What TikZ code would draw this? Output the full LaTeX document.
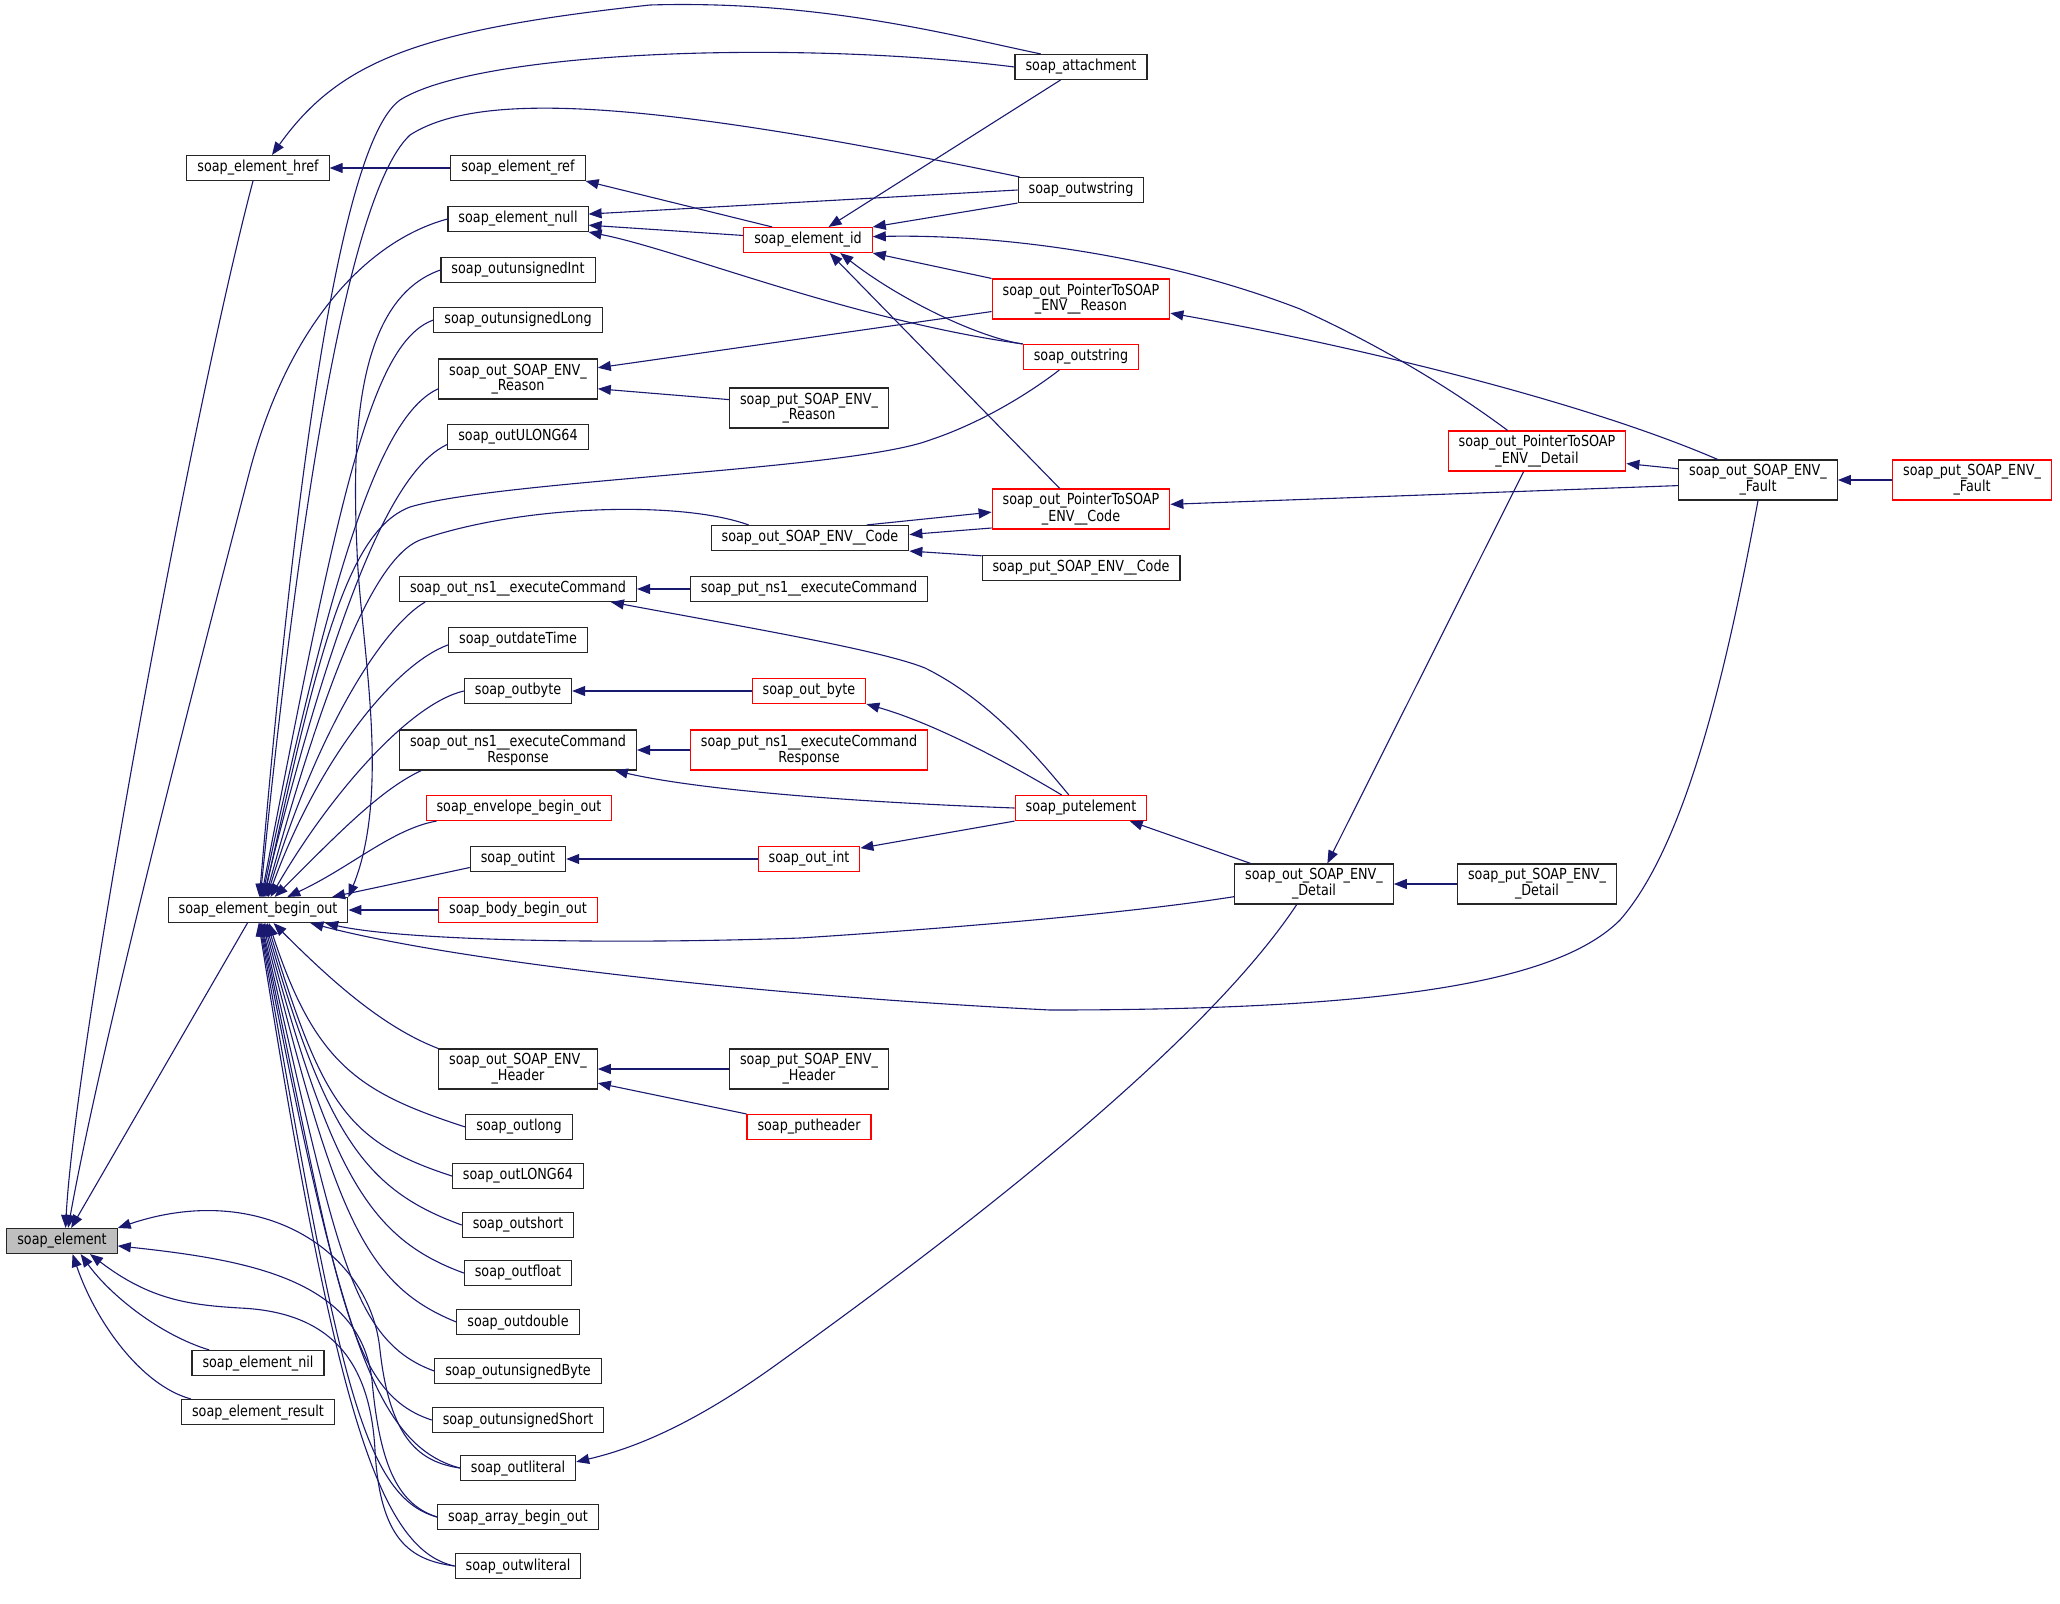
\documentclass[tikz,border=0pt]{standalone}
\usepackage{fontspec}
\setmainfont{DejaVu Sans}[FakeStretch=0.84]
\usetikzlibrary{arrows.meta}
\definecolor{edgeblue}{HTML}{191970}
\definecolor{nodegrey}{HTML}{BFBFBF}

\begin{document}
\begin{tikzpicture}[
x=1pt, y=1pt,
    fn/.style = {draw=black!85, fill=white, line width=1.1pt,
                 font=\fontsize{15.2}{13.6}\selectfont,
                 inner xsep=10.5pt, inner ysep=2pt,
                 minimum height=25pt, align=center},
   fnr/.style = {fn, draw=red},      % red frame
   fng/.style = {fn, fill=nodegrey}, % grey fill
   two/.style = {minimum height=40pt},
  call/.style = {draw=edgeblue, line width=1.1pt,
                 arrows={Triangle[length=13pt,width=10pt]-}}
                    ]
\useasboundingbox (0,0) rectangle (2060,-1603);
% soap_element and its direct callers
\node (el)       [fng] at (62,-1241)  {soap\_element};
\node (href)     [fn]  at (258,-168)  {soap\_element\_href};
\node (beginout) [fn]  at (258,-910)  {soap\_element\_begin\_out};
\node (nil)      [fn]  at (258,-1363) {soap\_element\_nil};
\node (result)   [fn]  at (258,-1412) {soap\_element\_result};
% third column
\node (ref)        [fn]     at (518,-168)  {soap\_element\_ref};
\node (null)       [fn]     at (518,-219)  {soap\_element\_null};
\node (uint)       [fn]     at (518,-270)  {soap\_outunsignedInt};
\node (ulong)      [fn]     at (518,-320)  {soap\_outunsignedLong};
\node (envreason)  [fn,two] at (518,-379)  {soap\_out\_SOAP\_ENV\_\\\_Reason};
\node (ulong64)    [fn]     at (518,-437)  {soap\_outULONG64};
\node (execcmd)    [fn]     at (518,-589)  {soap\_out\_ns1\_\_executeCommand};
\node (datetime)   [fn]     at (518,-640)  {soap\_outdateTime};
\node (outbyte)    [fn]     at (518,-691)  {soap\_outbyte};
\node (execresp)   [fn,two] at (518,-750)  {soap\_out\_ns1\_\_executeCommand\\Response};
\node (envbegin)   [fnr]    at (519,-808)  {soap\_envelope\_begin\_out};
\node (outint)     [fn]     at (518,-859)  {soap\_outint};
\node (bodybegin)  [fnr]    at (518,-910)  {soap\_body\_begin\_out};
\node (envheader)  [fn,two] at (518,-1069) {soap\_out\_SOAP\_ENV\_\\\_Header};
\node (outlong)    [fn]     at (519,-1127) {soap\_outlong};
\node (outLONG64)  [fn]     at (518,-1176) {soap\_outLONG64};
\node (outshort)   [fn]     at (518,-1225) {soap\_outshort};
\node (outfloat)   [fn]     at (518,-1273) {soap\_outfloat};
\node (outdouble)  [fn]     at (518,-1322) {soap\_outdouble};
\node (ubyte)      [fn]     at (518,-1371) {soap\_outunsignedByte};
\node (ushort)     [fn]     at (518,-1420) {soap\_outunsignedShort};
\node (literal)    [fn]     at (518,-1468) {soap\_outliteral};
\node (arraybegin) [fn]     at (518,-1517) {soap\_array\_begin\_out};
\node (wliteral)   [fn]     at (518,-1566) {soap\_outwliteral};
% fourth column
\node (elid)         [fnr]     at (808,-240)  {soap\_element\_id};
\node (putreason)    [fn,two]  at (809,-408)  {soap\_put\_SOAP\_ENV\_\\\_Reason};
\node (envcode)      [fn]      at (810,-538)  {soap\_out\_SOAP\_ENV\_\_Code};
\node (putexec)      [fn]      at (809,-589)  {soap\_put\_ns1\_\_executeCommand};
\node (outbyte2)     [fnr]     at (809,-691)  {soap\_out\_byte};
\node (putexecresp)  [fnr,two] at (809,-750)  {soap\_put\_ns1\_\_executeCommand\\Response};
\node (outint2)      [fnr]     at (809,-859)  {soap\_out\_int};
\node (putheaderenv) [fn,two]  at (809,-1069) {soap\_put\_SOAP\_ENV\_\\\_Header};
\node (putheader)    [fnr]     at (809,-1127) {soap\_putheader};
% fifth column
\node (attach)    [fn]      at (1081,-67)  {soap\_attachment};
\node (wstring)   [fn]      at (1081,-190) {soap\_outwstring};
\node (ptrreason) [fnr,two] at (1081,-299) {soap\_out\_PointerToSOAP\\\_ENV\_\_Reason};
\node (outstring) [fnr]     at (1081,-357) {soap\_outstring};
\node (ptrcode)   [fnr,two] at (1081,-509) {soap\_out\_PointerToSOAP\\\_ENV\_\_Code};
\node (putcode)   [fn]      at (1081,-568) {soap\_put\_SOAP\_ENV\_\_Code};
\node (putelem)   [fnr]     at (1081,-808) {soap\_putelement};
% right part
\node (envdetail) [fn,two]  at (1314,-884) {soap\_out\_SOAP\_ENV\_\\\_Detail};
\node (ptrdetail) [fnr,two] at (1537,-451) {soap\_out\_PointerToSOAP\\\_ENV\_\_Detail};
\node (putdetail) [fn,two]  at (1537,-884) {soap\_put\_SOAP\_ENV\_\\\_Detail};
\node (envfault)  [fn,two]  at (1758,-480) {soap\_out\_SOAP\_ENV\_\\\_Fault};
\node (putfault)  [fnr,two] at (1972,-480) {soap\_put\_SOAP\_ENV\_\\\_Fault};

% calls into soap_element
\draw[call] (el.75) .. controls (75,-1050) and (190,-420) .. (href.-111);
\draw[call] (el.65) .. controls (100,-1050) and (190,-700) .. (250,-470)
                    .. controls (290,-320) and (370,-240) .. (null.west);
\draw[call] (el.55) -- (beginout.-129);
\draw[call] (el.-35) .. controls (110,-1295) and (160,-1335) .. (nil.165);
\draw[call] (el.-51) .. controls (95,-1320) and (140,-1385) .. (result.169);
\draw[call] (el.north east) .. controls (260,-1180) and (370,-1250) .. (380,-1350)
                            .. controls (390,-1440) and (420,-1462) .. (literal.west);
\draw[call] (el.-5) .. controls (250,-1260) and (360,-1280) .. (372,-1380)
                    .. controls (380,-1470) and (400,-1505) .. (arraybegin.west);
\draw[call] (el.-25) .. controls (150,-1300) and (190,-1305) .. (240,-1308)
                     .. controls (330,-1312) and (370,-1360) .. (375,-1450)
                     .. controls (380,-1540) and (410,-1560) .. (wliteral.west);
% soap_element_href
\draw[call] (href) -- (ref);
\draw[call] (href.43) .. controls (340,-60) and (420,-30) .. (650,-5)
                      .. controls (820,0) and (950,-35) .. (attach.162);
% soap_element_begin_out, callers above
\draw[call] (beginout.84) .. controls (285,-600) and (330,-150) .. (400,-100)
                          .. controls (480,-50) and (800,-40) .. (attach.west);
\draw[call] (beginout.80) .. controls (290,-600) and (340,-200) .. (410,-135)
                          .. controls (480,-90) and (650,-100) .. (wstring.168);
\draw[call] (beginout.8) .. controls (392,-790) and (360,-640) .. (357,-550)
                         .. controls (352,-440) and (355,-300) .. (uint.west);
\draw[call] (beginout.76) .. controls +(79:407) and +(200:67) .. (ulong.west);
\draw[call] (beginout.72) .. controls +(78:363) and +(205:60) .. (envreason.187);
\draw[call] (beginout.68) .. controls +(76:326) and +(205:55) .. (ulong64.186);
\draw[call] (beginout.64) .. controls (320,-640) and (350,-530) .. (410,-507)
                          .. controls (500,-480) and (850,-470) .. (930,-440)
                          .. controls (990,-420) and (1040,-385) .. (outstring.211);
\draw[call] (beginout.60) .. controls (320,-700) and (370,-560) .. (420,-540)
                          .. controls (520,-505) and (680,-500) .. (envcode.168);
\draw[call] (beginout.56) .. controls +(73:185) and +(210:45) .. (execcmd.188);
\draw[call] (beginout.52) .. controls +(70:150) and +(200:55) .. (datetime.184);
\draw[call] (beginout.46) .. controls +(60:120) and +(193:55) .. (outbyte.west);
\draw[call] (beginout.38) .. controls +(45:90) and +(205:45) .. (execresp.192);
\draw[call] (beginout.24) .. controls +(25:70) and +(190:45) .. (envbegin.189);
\draw[call] (beginout.10) -- (outint.190);
\draw[call] (beginout) -- (bodybegin);
% soap_element_begin_out, callers below
\draw[call] (beginout.-40) .. controls +(-45:80) and +(159:60) .. (envheader.north west);
\draw[call] (beginout.-50) .. controls +(-72:150) and +(162:110) .. (outlong.west);
\draw[call] (beginout.-55) .. controls +(-73:190) and +(162:110) .. (outLONG64.west);
\draw[call] (beginout.-60) .. controls +(-74:225) and +(160:100) .. (outshort.west);
\draw[call] (beginout.-65) .. controls +(-75:260) and +(160:100) .. (outfloat.west);
\draw[call] (beginout.-70) .. controls +(-76:300) and +(158:100) .. (outdouble.west);
\draw[call] (beginout.-75) .. controls +(-77:335) and +(160:90) .. (ubyte.west);
\draw[call] (beginout.-78) .. controls +(-78:370) and +(162:90) .. (ushort.west);
\draw[call] (beginout.-81) .. controls +(-79:410) and +(165:90) .. (literal.west);
\draw[call] (beginout.-84) .. controls +(-80:445) and +(165:80) .. (arraybegin.west);
\draw[call] (beginout.-87) .. controls +(-81:480) and +(168:80) .. (wliteral.west);
\draw[call] (beginout.-11) .. controls (400,-940) and (600,-945) .. (800,-938)
                           .. controls (1000,-925) and (1150,-910) .. (envdetail.189);
\draw[call] (beginout.-14) .. controls (450,-960) and (750,-995) .. (1050,-1010)
                           .. controls (1400,-1010) and (1560,-980) .. (1620,-920)
                           .. controls (1690,-840) and (1730,-650) .. (envfault.south);
% soap_element_null, _ref, _id
\draw[call] (null.4) -- (wstring.west);
\draw[call] (null.-5) -- (elid.176);
\draw[call] (null.south east) .. controls (680,-250) and (850,-320) .. (outstring.north west);
\draw[call] (ref.south east) -- (elid.160);
\draw[call] (elid) -- (attach);
\draw[call] (elid.north east) -- (wstring.south west);
\draw[call] (elid.3) .. controls (1000,-234) and (1160,-255) .. (1300,-309)
                     .. controls (1390,-350) and (1460,-395) .. (ptrdetail.145);
\draw[call] (elid.south east) -- (ptrreason.north west);
\draw[call] (elid.-22) .. controls (900,-300) and (980,-338) .. (outstring.north west);
\draw[call] (elid.-31) -- (ptrcode.136);
% SOAP_ENV parts
\draw[call] (envreason.8) -- (ptrreason.188);
\draw[call] (envreason.-7) -- (putreason.174);
\draw[call] (ptrreason.-9) .. controls (1350,-345) and (1580,-400) .. (envfault.153);
\draw[call] (ptrdetail.-8) -- (envfault.172);
\draw[call] (ptrcode.3) -- (envfault.184);
\draw[call] (envfault) -- (putfault);
\draw[call] (ptrcode.182) -- (envcode.13);
\draw[call] (envcode.2) -- (ptrcode.192);
\draw[call] (envcode.south east) -- (putcode.173);
\draw[call] (envdetail.57) -- (ptrdetail.-123);
\draw[call] (envdetail) -- (putdetail);
\draw[call] (literal.6) .. controls (640,-1447) and (700,-1420) .. (780,-1362)
                        .. controls (950,-1240) and (1200,-1050) .. (envdetail.230);
% soap_putelement and the rest
\draw[call] (execcmd) -- (putexec);
\draw[call] (execcmd.-8) .. controls (750,-628) and (880,-650) .. (925,-668)
                         .. controls (990,-700) and (1040,-760) .. (putelem.133);
\draw[call] (outbyte) -- (outbyte2);
\draw[call] (outbyte2.south east) .. controls (940,-725) and (1020,-770) .. (putelem.146);
\draw[call] (execresp) -- (putexecresp);
\draw[call] (execresp.-12) .. controls (700,-790) and (850,-802) .. (putelem.west);
\draw[call] (outint) -- (outint2);
\draw[call] (outint2.12) -- (putelem.south west);
\draw[call] (putelem.-15) -- (envdetail.162);
\draw[call] (envheader) -- (putheaderenv);
\draw[call] (envheader.-10) -- (putheader.north west);
\end{tikzpicture}
\end{document}
